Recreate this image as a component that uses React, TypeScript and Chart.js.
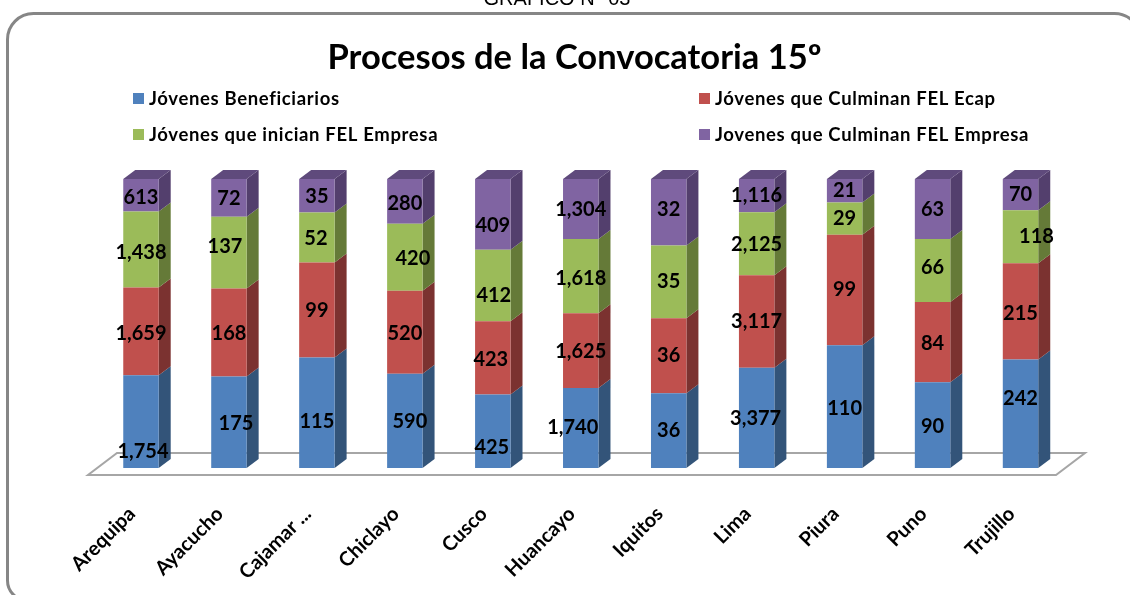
import React, { useEffect, useRef } from "react";
import { Chart, registerables } from "chart.js";

Chart.register(...registerables);

const categories = ["Arequipa", "Ayacucho", "Cajamar ...", "Chiclayo", "Cusco", "Huancayo", "Iquitos", "Lima", "Piura", "Puno", "Trujillo"];
const beneficiarios = [1754, 175, 115, 590, 425, 1740, 36, 3377, 110, 90, 242];
const culminanEcap = [1659, 168, 99, 520, 423, 1625, 36, 3117, 99, 84, 215];
const inicianEmpresa = [1438, 137, 52, 420, 412, 1618, 35, 2125, 29, 66, 118];
const culminanEmpresa = [613, 72, 35, 280, 409, 1304, 32, 1116, 21, 63, 70];
const seriesNames = ["Jóvenes Beneficiarios", "Jóvenes que Culminan FEL Ecap", "Jóvenes que inician FEL Empresa", "Jovenes que Culminan FEL Empresa"];
const seriesValues = [beneficiarios, culminanEcap, inicianEmpresa, culminanEmpresa];

const frontColors = ["#4F81BD", "#C0504D", "#9BBB59", "#8064A2"];
const sideColors = ["#335479", "#7B3230", "#657A38", "#533F6D"];
const topColors = ["#3F6796", "#9A403D", "#7C9647", "#5F4A7C"];

// label displacement from the centre of each segment, as placed by hand in the original
const shiftX = [
  [2, 7, 0, 5, -1, -8, 0, -1, 0, 0, 0],
  [0, 0, 0, 0, -2, 0, 0, 0, 0, 0, 0],
  [0, -4, -1, 8, 1, 0, 0, 0, 0, 0, 16],
  [0, 0, 0, 0, 0, 0, 0, 0, 0, 0, 0],
];
const shiftY = [
  [30, 1, 9, 1, 16, 0, 0, 1, 2, 1, -15],
  [2, 1, 0, 1, 2, 1, 0, 0, 0, 1, 2],
  [3, -6, 1, 1, 10, 2, 0, 1, 0, -3, 0],
  [2, 1, 1, 2, 11, 1, -3, 0, 0, 1, 0],
];

const totals = categories.map((_, i) => seriesValues.reduce((s, v) => s + v[i], 0));

const decorPlugin = {
  id: "decor",
  beforeDraw(chart: any) {
    const { ctx, chartArea: a } = chart;
    ctx.save();
    ctx.fillStyle = "#fff";
    ctx.fillRect(0, 0, chart.width, chart.height);
    ctx.strokeStyle = "#868686";
    ctx.lineWidth = 3;
    ctx.beginPath();
    ctx.roundRect(7.5, 13.5, 1133, 587, [26, 26, 20, 20]);
    ctx.stroke();
    ctx.fillStyle = "#000";
    ctx.font = "20px 'Liberation Sans'";
    ctx.textAlign = "center";
    ctx.textBaseline = "alphabetic";
    ctx.fillText("GRAFICO N° 03", 557, 5);

    // floor
    ctx.strokeStyle = "#A6A6A6";
    ctx.lineWidth = 2;
    ctx.beginPath();
    ctx.moveTo(a.left - 9, a.bottom + 7);
    ctx.lineTo(a.right - 8.5, a.bottom + 7);
    ctx.lineTo(a.right + 20.5, a.bottom - 15);
    ctx.lineTo(a.left + 20, a.bottom - 15);
    ctx.closePath();
    ctx.stroke();

    // legend, two rows of two columns
    const xs = [133, 699];
    const ys = [98, 134];
    ctx.font = "bold 18.5px Lato";
    (ctx as any).letterSpacing = "0.65px";
    ctx.textAlign = "left";
    ctx.textBaseline = "middle";
    chart.data.datasets.forEach((d: any, i: number) => {
      const x = xs[i % 2];
      const y = ys[i >> 1];
      ctx.fillStyle = d.backgroundColor;
      ctx.fillRect(x, y - 5, 11, 11);
      ctx.fillStyle = "#000";
      ctx.fillText(d.label, x + 16, y + 1);
    });
    (ctx as any).letterSpacing = "0px";
    ctx.restore();
  },
  beforeDatasetsDraw(chart: any) {
    const { ctx } = chart;
    const dx = 12;
    const dy = 9;
    ctx.save();
    chart.data.datasets.forEach((_: any, i: number) => {
      chart.getDatasetMeta(i).data.forEach((el: any) => {
        const r = el.x + el.width / 2;
        const l = el.x - el.width / 2;
        ctx.fillStyle = sideColors[i];
        ctx.beginPath();
        ctx.moveTo(r, el.y);
        ctx.lineTo(r + dx, el.y - dy);
        ctx.lineTo(r + dx, el.base - dy);
        ctx.lineTo(r, el.base);
        ctx.closePath();
        ctx.fill();
        if (i === chart.data.datasets.length - 1) {
          ctx.fillStyle = topColors[i];
          ctx.beginPath();
          ctx.moveTo(l, el.y);
          ctx.lineTo(l + dx, el.y - dy);
          ctx.lineTo(r + dx, el.y - dy);
          ctx.lineTo(r, el.y);
          ctx.closePath();
          ctx.fill();
        }
      });
    });
    ctx.restore();
  },
  afterDatasetsDraw(chart: any) {
    const { ctx } = chart;
    ctx.save();
    ctx.fillStyle = "#000";
    ctx.font = "bold 20px Lato";
    ctx.textAlign = "center";
    ctx.textBaseline = "middle";
    chart.data.datasets.forEach((_: any, i: number) => {
      chart.getDatasetMeta(i).data.forEach((el: any, j: number) => {
        const text = seriesValues[i][j].toLocaleString("en-US");
        ctx.fillText(text, el.x + shiftX[i][j], (el.y + el.base) / 2 + shiftY[i][j]);
      });
    });
    ctx.restore();
  },
};

export default function App() {
  const ref = useRef<HTMLCanvasElement>(null);
  useEffect(() => {
    const chart = new Chart(ref.current as HTMLCanvasElement, {
      type: "bar",
      data: {
        labels: categories,
        datasets: seriesNames.map((label, i) => ({
          label,
          data: seriesValues[i].map((v, j) => (v / totals[j]) * 100),
          backgroundColor: frontColors[i],
          borderWidth: 0,
          barPercentage: 0.403,
          categoryPercentage: 1,
        })),
      },
      options: {
        animation: false,
        responsive: false,
        layout: { padding: { left: 84.5, right: 65.5, top: 0, bottom: 0 } },
        plugins: {
          legend: { display: false },
          tooltip: { enabled: false },
          title: {
            display: true,
            text: "Procesos de la Convocatoria 15º",
            color: "#000",
            font: { family: "Lato", size: 34.5, weight: "bold", lineHeight: 1.2 },
            padding: { top: 37, bottom: 100.6 },
          },
        },
        scales: {
          x: {
            stacked: true,
            grid: { display: false },
            border: { display: false },
            afterFit(s: any) { s.height = 127; },
            ticks: {
              color: "#000",
              font: { family: "Lato", size: 20, weight: "bold" },
              minRotation: 45,
              maxRotation: 45,
              autoSkip: false,
              padding: 26,
              labelOffset: -9,
            },
          },
          y: {
            stacked: true,
            min: 0,
            max: 100,
            grid: { display: false },
            border: { display: false },
            ticks: { display: false },
            afterFit(s: any) { s.width = 12.5; },
          },
        },
      },
      plugins: [decorPlugin],
    } as any);
    return () => chart.destroy();
  }, []);
  return <canvas ref={ref} width={1130} height={595} style={{ position: "fixed", left: 0, top: 0, width: 1130, height: 595 }} />;
}
